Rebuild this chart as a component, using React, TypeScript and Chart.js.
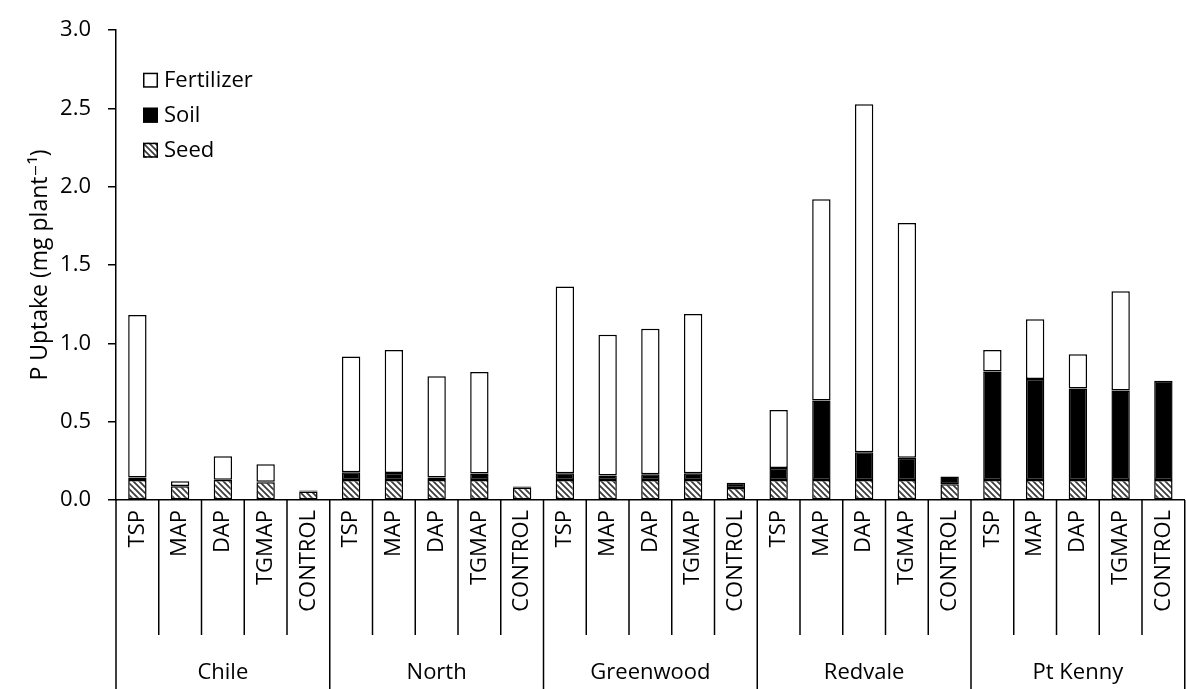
import React, { useEffect, useRef } from 'react';
import { Chart, registerables } from 'chart.js';

Chart.register(...registerables);

const groups = ['Chile', 'North', 'Greenwood', 'Redvale', 'Pt Kenny'];
const treatments = ['TSP', 'MAP', 'DAP', 'TGMAP', 'CONTROL'];
const categories = groups.flatMap(() => treatments);

// P uptake (mg plant-1), one value per category, order: Chile, North, Greenwood, Redvale, Pt Kenny
const seed = [
  0.127, 0.088, 0.127, 0.114, 0.055,
  0.127, 0.127, 0.127, 0.127, 0.078,
  0.127, 0.127, 0.127, 0.127, 0.076,
  0.127, 0.127, 0.127, 0.127, 0.100,
  0.128, 0.128, 0.128, 0.128, 0.128,
];
const soil = [
  0.016, 0.002, 0.003, 0.003, 0.005,
  0.050, 0.045, 0.016, 0.043, 0.008,
  0.044, 0.029, 0.038, 0.044, 0.034,
  0.078, 0.509, 0.178, 0.143, 0.050,
  0.693, 0.645, 0.584, 0.571, 0.634,
];
const fertilizer = [
  1.038, 0.030, 0.150, 0.111, 0,
  0.739, 0.786, 0.647, 0.648, 0,
  1.193, 0.899, 0.928, 1.017, 0,
  0.370, 1.284, 2.222, 1.499, 0,
  0.137, 0.381, 0.219, 0.634, 0,
];
const yTicks = [0, 0.5, 1.0, 1.5, 2.0, 2.5, 3.0];

const FONT = "'Open Sans', 'DejaVu Sans', sans-serif";

function makeHatch(): CanvasPattern | string {
  const c = document.createElement('canvas');
  c.width = 6;
  c.height = 6;
  const ctx = c.getContext('2d');
  if (!ctx) return '#888';
  ctx.fillStyle = '#ffffff';
  ctx.fillRect(0, 0, 6, 6);
  ctx.strokeStyle = '#3a3a3a';
  ctx.lineWidth = 1.7;
  ctx.beginPath();
  ctx.moveTo(-1, -1); ctx.lineTo(7, 7);
  ctx.moveTo(-4, 2); ctx.lineTo(4, 10);
  ctx.moveTo(2, -4); ctx.lineTo(10, 4);
  ctx.stroke();
  return ctx.createPattern(c, 'repeat') || '#888';
}

export default function App() {
  const ref = useRef<HTMLCanvasElement | null>(null);

  useEffect(() => {
    if (!ref.current) return;
    const hatch = makeHatch();

    const separators = {
      id: 'separators',
      afterDraw(chart: any) {
        const x = chart.scales.x;
        const ctx = chart.ctx;
        const n = categories.length;
        const step = n > 1 ? x.getPixelForValue(1) - x.getPixelForValue(0) : 0;
        const axisY = chart.chartArea.bottom;
        const x2 = chart.scales.x2;
        ctx.save();
        ctx.strokeStyle = '#000';
        ctx.lineWidth = 1.5;
        for (let i = 0; i <= n; i++) {
          const px = x.getPixelForValue(i) - step / 2;
          const isGroup = i % treatments.length === 0;
          const yEnd = isGroup ? chart.height : x2.top;
          ctx.beginPath();
          ctx.moveTo(px, axisY);
          ctx.lineTo(px, yEnd);
          ctx.stroke();
        }
        ctx.restore();
      },
    };

    const legend = {
      id: 'customLegend',
      afterDraw(chart: any) {
        const ctx = chart.ctx;
        const { left, top } = chart.chartArea;
        const ds = [...chart.data.datasets].reverse();
        ctx.save();
        ctx.font = `22px ${FONT}`;
        ctx.textBaseline = 'middle';
        ctx.fillStyle = '#000';
        ds.forEach((d: any, i: number) => {
          const cy = top + 50 + i * 35;
          const bx = left + 27;
          const s = 15;
          ctx.fillStyle = d.backgroundColor;
          ctx.fillRect(bx, cy - s / 2, s, s);
          ctx.strokeStyle = '#000';
          ctx.lineWidth = 1.5;
          ctx.strokeRect(bx + 0.75, cy - s / 2 + 0.75, s - 1.5, s - 1.5);
          ctx.fillStyle = '#000';
          ctx.fillText(d.label, bx + s + 6, cy + 1);
        });
        ctx.restore();
      },
    };

    const font = { family: FONT, size: 22 };

    const chart = new Chart(ref.current, {
      type: 'bar',
      data: {
        labels: categories,
        datasets: [
          { label: 'Seed', data: seed, backgroundColor: hatch as any, borderColor: '#000', borderWidth: 1.5, borderSkipped: false },
          { label: 'Soil', data: soil, backgroundColor: '#000', borderColor: '#000', borderWidth: 1.5, borderSkipped: false },
          { label: 'Fertilizer', data: fertilizer, backgroundColor: '#ffffff', borderColor: '#000', borderWidth: 1.5, borderSkipped: false },
        ],
      },
      options: {
        responsive: false,
        animation: false,
        events: [],
        datasets: { bar: { barPercentage: 0.43, categoryPercentage: 1 } },
        layout: { padding: { top: 25, right: 11, left: 0, bottom: 0 } },
        plugins: { legend: { display: false }, tooltip: { enabled: false } },
        scales: {
          x: {
            stacked: true,
            offset: true,
            weight: 0,
            grid: { display: false, drawTicks: false, tickLength: 0 },
            border: { display: true, color: '#000', width: 1.5 },
            ticks: { autoSkip: false, minRotation: 90, maxRotation: 90, color: '#000', font, padding: 10 },
            afterFit: (s: any) => { s.height = 135; },
          },
          x2: {
            type: 'category',
            labels: groups,
            position: 'bottom',
            offset: true,
            weight: 1,
            grid: { display: false, drawTicks: false, tickLength: 0 },
            border: { display: false },
            ticks: { color: '#000', font, padding: 25, autoSkip: false, maxRotation: 0, minRotation: 0 },
            afterFit: (s: any) => { s.height = 54; },
          },
          y: {
            stacked: true,
            min: 0,
            max: 3,
            afterBuildTicks: (s: any) => { s.ticks = yTicks.map((v) => ({ value: v })); },
            ticks: { color: '#000', font, padding: 17, callback: (v: any) => Number(v).toFixed(1) },
            grid: { display: true, drawOnChartArea: false, drawTicks: true, tickLength: 8, color: '#000', lineWidth: 1.5 },
            border: { display: true, color: '#000', width: 1.5 },
            title: { display: true, text: 'P Uptake (mg plant⁻¹)', color: '#000', font: { family: FONT, size: 23 }, padding: { top: 27, bottom: 0 } },
            afterFit: (s: any) => { s.width = 116; },
          },
        },
      },
      plugins: [separators, legend],
    });

    return () => chart.destroy();
  }, []);

  return (
    <div style={{ position: 'fixed', left: 0, top: 0, width: 1186, height: 689, overflow: 'hidden', background: '#fff' }}>
      <canvas ref={ref} width={1200} height={689} style={{ display: 'block' }} />
    </div>
  );
}
